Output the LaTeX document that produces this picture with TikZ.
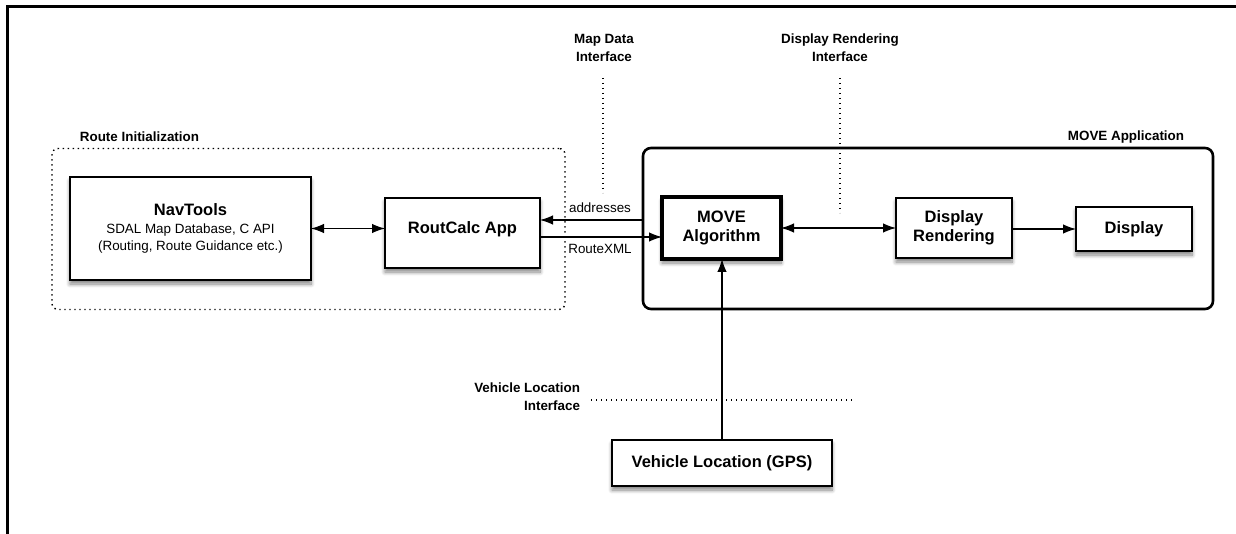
\documentclass[tikz,border=0pt]{standalone}
\usepackage{fontspec}
\setmainfont{Liberation Sans}
\usetikzlibrary{arrows.meta,shadows.blur}
\newcommand\ttlf{\fontsize{16.5}{19.5}\selectfont\bfseries}
\newcommand\lblf{\fontsize{13.4}{18}\selectfont\bfseries}
\newcommand\smf{\fontsize{13.4}{17.5}\selectfont}
\begin{document}
\begin{tikzpicture}[x=1pt,y=-1pt,
  every node/.style={inner sep=0pt, outer sep=0pt},
  shad/.style={blur shadow={shadow xshift=0pt, shadow yshift=-4pt, shadow blur radius=4pt, shadow blur steps=8, shadow opacity=50}},
  box/.style={draw, fill=white, line width=1.5pt, align=center, shad},
  thickbox/.style={box, line width=2.8pt},
  heavybox/.style={box, line width=4.4pt},
  ttl/.style={font=\ttlf},
  lbl/.style={font=\lblf, align=center},
  sm/.style={font=\smf},
  conn/.style={line width=1.2pt, -{Latex[length=13pt,width=9.5pt]}},
  dconn/.style={line width=1.2pt, {Latex[length=13pt,width=9.5pt]}-{Latex[length=13pt,width=9.5pt]}},
  dots/.style={line width=1.4pt, dash pattern=on 1.4pt off 3.6pt},
  group/.style={draw, rounded corners=6pt, minimum width=513pt, minimum height=161pt}
]
\useasboundingbox (0,0) rectangle (1236,534);
% outer frame
\draw[line width=3pt] (7,534) -- (7,7) -- (1236,7);

% Route initialization group
\node[group, dots] (ri) at (308.5,229) {};
\node[lbl] (ril) at (139.5,137) {Route Initialization};

\node[box, minimum width=241pt, minimum height=103pt, font=\smf] (nav) at (190.5,228.5)
  {{\ttlf NavTools}\\SDAL Map Database, C API\\(Routing, Route Guidance etc.)};
\node[thickbox, ttl, minimum width=155pt, minimum height=70pt, text height=12pt, text depth=10pt] (rc) at (462.5,233) {RoutCalc App};

% MOVE application group
\node[draw, line width=2.6pt, rounded corners=8pt, minimum width=570pt, minimum height=161pt] (app) at (928,228.5) {};
\node[lbl] (appl) at (1126,137) {MOVE Application};

\node[heavybox, ttl, minimum width=119pt, minimum height=62pt] (ma) at (721.5,228) {MOVE\\Algorithm};
\node[box, ttl, minimum width=116pt, minimum height=60pt] (dr) at (954,228) {Display\\Rendering};
\node[box, ttl, minimum width=116pt, minimum height=44pt] (disp) at (1134,229) {Display};
\node[box, ttl, minimum width=220pt, minimum height=46pt] (veh) at (722,463) {Vehicle Location (GPS)};

% interface labels
\node[lbl] (mdl) at (604,48) {Map Data\\Interface};
\node[lbl] (drl) at (840,48) {Display Rendering\\Interface};
\node[lbl, align=right, anchor=east] (vll) at (580,397) {Vehicle Location\\Interface};

\coordinate (mdT) at (603,78);
\coordinate (mdB) at (603,193);
\coordinate (drT) at (840,78);
\coordinate (drB) at (840,213);
\coordinate (vlL) at (591,400);
\coordinate (vlR) at (855,400);
\draw[dots] (mdT) -- (mdB);
\draw[dots] (drT) -- (drB);
\draw[dots] (vlL) -- (vlR);

% connectors
\coordinate (addrY) at (0,220);
\coordinate (xmlY) at (0,237);
\draw[dconn] (nav.east) -- (nav.east -| rc.west);
\draw[conn] (app.west |- addrY) -- (rc.east |- addrY);
\draw[conn] (rc.east |- xmlY) -- (ma.west |- xmlY);
\node[sm] (addr) at (600,208) {addresses};
\node[sm] (xml) at (600,249) {RouteXML};
\draw[dconn] (ma.east) -- (dr.west);
\draw[conn] (dr.east |- disp) -- (disp.west);
\draw[conn] (veh.north) -- (veh.north |- ma.south);
\end{tikzpicture}
\end{document}
